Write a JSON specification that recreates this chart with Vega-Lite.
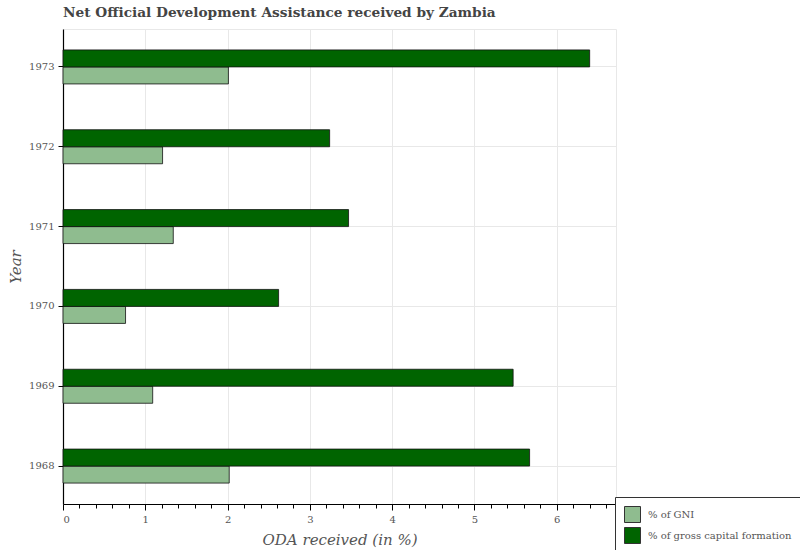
{
  "$schema": "https://vega.github.io/schema/vega-lite/v6.json",
  "width": 553,
  "height": 475,
  "autosize": "none",
  "padding": {"left": 63, "top": 29, "right": 184, "bottom": 46},
  "background": "white",
  "title": {
    "text": "Net Official Development Assistance received by Zambia",
    "anchor": "start",
    "frame": "group",
    "font": "DejaVu Serif",
    "fontSize": 13.7,
    "fontWeight": "bold",
    "color": "#444444",
    "offset": 9
  },
  "config": {
    "view": {"stroke": "#e8e8e8"},
    "font": "DejaVu Serif"
  },
  "data": {
    "values": [
      {"Year": "1968", "Indicator": "% of GNI", "Value": 2.02},
      {"Year": "1968", "Indicator": "% of gross capital formation", "Value": 5.67},
      {"Year": "1969", "Indicator": "% of GNI", "Value": 1.09},
      {"Year": "1969", "Indicator": "% of gross capital formation", "Value": 5.47},
      {"Year": "1970", "Indicator": "% of GNI", "Value": 0.76},
      {"Year": "1970", "Indicator": "% of gross capital formation", "Value": 2.62},
      {"Year": "1971", "Indicator": "% of GNI", "Value": 1.34},
      {"Year": "1971", "Indicator": "% of gross capital formation", "Value": 3.47},
      {"Year": "1972", "Indicator": "% of GNI", "Value": 1.21},
      {"Year": "1972", "Indicator": "% of gross capital formation", "Value": 3.24},
      {"Year": "1973", "Indicator": "% of GNI", "Value": 2.01},
      {"Year": "1973", "Indicator": "% of gross capital formation", "Value": 6.40}
    ]
  },
  "mark": {"type": "bar", "stroke": "#111111", "strokeWidth": 0.8},
  "encoding": {
    "y": {
      "field": "Year",
      "type": "nominal",
      "sort": "descending",
      "scale": {"paddingInner": 0.574, "paddingOuter": 0.262},
      "axis": {
        "title": "Year",
        "titleFont": "DejaVu Serif",
        "titleFontStyle": "italic",
        "titleFontWeight": "normal",
        "titleFontSize": 15,
        "titleColor": "#555555",
        "titlePadding": 5,
        "labelFont": "DejaVu Serif",
        "labelFontSize": 10,
        "labelColor": "#555555",
        "labelPadding": 4,
        "domainColor": "#000000",
        "domainWidth": 1.2,
        "tickColor": "#000000",
        "tickSize": 5,
        "grid": true,
        "gridColor": "#e8e8e8"
      }
    },
    "yOffset": {
      "field": "Indicator",
      "type": "nominal",
      "sort": ["% of gross capital formation", "% of GNI"]
    },
    "x": {
      "field": "Value",
      "type": "quantitative",
      "scale": {"domain": [0, 6.72], "nice": false, "zero": true},
      "axis": {
        "title": "ODA received (in %)",
        "titleFont": "DejaVu Serif",
        "titleFontStyle": "italic",
        "titleFontWeight": "normal",
        "titleFontSize": 15,
        "titleColor": "#555555",
        "titlePadding": 8,
        "format": ".0f",
        "values": [0, 0.2, 0.4, 0.6, 0.8, 1, 1.2, 1.4, 1.6, 1.8, 2, 2.2, 2.4, 2.6, 2.8, 3, 3.2, 3.4, 3.6, 3.8, 4, 4.2, 4.4, 4.6, 4.8, 5, 5.2, 5.4, 5.6, 5.8, 6, 6.2, 6.4, 6.6],
        "labelExpr": "abs(datum.value - round(datum.value)) < 0.001 ? datum.label : ''",
        "labelOverlap": false,
        "labelFont": "DejaVu Serif",
        "labelFontSize": 10,
        "labelColor": "#555555",
        "labelPadding": 4,
        "domainColor": "#000000",
        "domainWidth": 1.2,
        "tickColor": "#000000",
        "tickSize": {"condition": {"test": "abs(datum.value - round(datum.value)) < 0.001", "value": 6}, "value": 4},
        "grid": true,
        "gridColor": "#e8e8e8",
        "gridOpacity": {"condition": {"test": "abs(datum.value - round(datum.value)) < 0.001", "value": 1}, "value": 0}
      }
    },
    "color": {
      "field": "Indicator",
      "type": "nominal",
      "scale": {
        "domain": ["% of GNI", "% of gross capital formation"],
        "range": ["#8fbc8f", "#006400"]
      },
      "legend": {
        "title": null,
        "orient": "none",
        "legendX": 552,
        "legendY": 468,
        "strokeColor": "#333333",
        "fillColor": "white",
        "padding": 9,
        "symbolType": "square",
        "symbolSize": 256,
        "symbolStrokeColor": "#333333",
        "symbolStrokeWidth": 1,
        "labelFont": "DejaVu Serif",
        "labelFontSize": 10,
        "labelColor": "#555555",
        "labelOffset": 7,
        "rowPadding": 0,
        "cornerRadius": 0
      }
    }
  }
}
